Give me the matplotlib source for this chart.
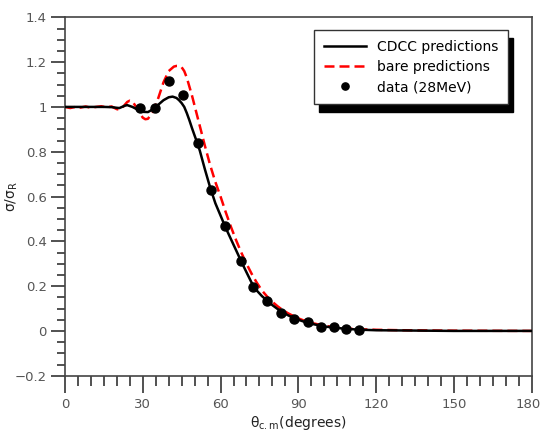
import matplotlib
matplotlib.use("Agg")
import matplotlib.pyplot as plt
from matplotlib.ticker import MultipleLocator
import matplotlib.transforms as mtransforms

# CDCC predictions
cdcc_x = [0, 5, 10, 15, 18, 20, 21, 23, 24, 26, 28, 30, 32, 34, 36, 38, 40, 41.5, 43, 44, 45, 46, 47, 48, 49, 50,
          51, 52, 54, 56, 58, 60, 62, 64, 66, 68, 70, 72, 74, 76, 78, 80, 82, 84, 86, 88, 90, 92, 95, 100,
          105, 110, 115, 120, 130, 140, 150, 180]
cdcc_y = [1.0, 1.0, 1.0, 1.0, 0.999, 0.996, 0.995, 1.005, 1.008, 1.0, 0.988, 0.978, 0.977, 0.99, 1.01, 1.03, 1.043,
          1.046, 1.04, 1.03, 1.017, 1.0, 0.972, 0.94, 0.905, 0.872, 0.84, 0.805, 0.72, 0.64, 0.57, 0.515, 0.46,
          0.41, 0.36, 0.31, 0.262, 0.215, 0.18, 0.155, 0.135, 0.115, 0.098, 0.083, 0.07, 0.059, 0.05, 0.042,
          0.032, 0.02, 0.013, 0.008, 0.005, 0.003, 0.002, 0.001, 0.0, 0.0]

# bare predictions
bare_x = [0, 2, 4, 6, 8, 10, 12, 14, 16, 18, 20, 21, 22, 24, 25, 26, 28, 30, 31, 32, 34, 36, 38, 40, 42, 43,
          44, 45, 46, 47, 48, 49, 50, 52, 54, 56, 58, 60, 62, 64, 66, 68, 70, 72, 74, 76, 78, 80, 82, 84, 86,
          88, 90, 92, 95, 100, 105, 110, 115, 120, 130, 140, 150, 180]
bare_y = [1.0, 0.995, 1.0, 0.997, 1.002, 0.996, 1.0, 1.003, 0.998, 1.002, 0.99, 0.988, 0.995, 1.022, 1.028,
          1.025, 0.99, 0.952, 0.945, 0.947, 0.98, 1.04, 1.11, 1.16, 1.18, 1.183, 1.183, 1.177, 1.16, 1.13,
          1.09, 1.05, 1.005, 0.915, 0.825, 0.74, 0.665, 0.6, 0.53, 0.465, 0.405, 0.35, 0.3, 0.255, 0.215,
          0.18, 0.153, 0.13, 0.11, 0.093, 0.079, 0.067, 0.056, 0.047, 0.036, 0.023, 0.015, 0.01, 0.007,
          0.005, 0.003, 0.002, 0.001, 0.0]

# data (28MeV)
data_x = [28.8, 34.8, 40.3, 45.4, 51.2, 56.2, 61.8, 67.9, 72.7, 77.9, 83.3, 88.5, 93.7, 98.9, 103.8, 108.2, 113.4]
data_y = [0.997, 0.997, 1.116, 1.055, 0.838, 0.628, 0.469, 0.310, 0.196, 0.135, 0.081, 0.053, 0.042, 0.016,
          0.016, 0.008, 0.004]

xticks = [0, 30, 60, 90, 120, 150, 180]
yticks = [-0.2, 0, 0.2, 0.4, 0.6, 0.8, 1.0, 1.2, 1.4]
ytick_labels = ["\u22120.2", "0", "0.2", "0.4", "0.6", "0.8", "1", "1.2", "1.4"]

plt.rcParams['font.family'] = ['DejaVu Sans']
fig = plt.figure(figsize=(5.42, 4.34), dpi=100)
ax = fig.add_axes([0.1199, 0.1343, 0.861, 0.8258])

ax.plot(cdcc_x, cdcc_y, color='black', lw=1.8, label='CDCC predictions', zorder=3)
ax.plot(bare_x, bare_y, color='red', lw=1.8, ls=(0, (4, 2)), label='bare predictions', zorder=2)
ax.plot(data_x, data_y, 'o', color='black', ms=6.5, label='data (28MeV)', zorder=4)

ax.set_xlim(0, 180)
ax.set_ylim(-0.2, 1.4)
ax.set_xticks(xticks)
ax.set_yticks(yticks)
ax.set_yticklabels(ytick_labels)
ax.xaxis.set_minor_locator(MultipleLocator(5))
ax.yaxis.set_minor_locator(MultipleLocator(0.05))
ax.tick_params(axis='both', which='major', direction='out', colors='#333333', labelcolor='#555555',
               labelsize=9.5, width=1.2)
ax.tick_params(axis='x', which='major', length=12, pad=4)
ax.tick_params(axis='y', which='major', length=10, pad=3)
ax.tick_params(axis='x', which='minor', direction='out', length=7, width=1.2, colors='#333333')
ax.tick_params(axis='y', which='minor', direction='out', length=6, width=1.2, colors='#333333')
for s in ax.spines.values():
    s.set_color('#444444')
    s.set_linewidth(1.2)

# nudge the last x tick label slightly left so it stays inside the figure
last = ax.get_xticklabels()[-1]
last.set_transform(last.get_transform() + mtransforms.ScaledTranslation(-3 / 100, 0, fig.dpi_scale_trans))

ax.set_xlabel(r'θ$_{\mathrm{c.m}}$(degrees)', fontsize=10, color='#222222', labelpad=2)
ax.set_ylabel(r'σ/σ$_{\mathrm{R}}$', fontsize=10, color='#222222')
ax.yaxis.set_label_coords(-0.097, 0.5)

leg = ax.legend(loc='upper right', bbox_to_anchor=(0.949, 0.9646), fontsize=10, frameon=True,
                fancybox=False, shadow={'color': 'black', 'alpha': 1.0, 'ox': 3.6, 'oy': -6.0},
                borderpad=0.7, markerscale=0.8,
                handlelength=3.0, handletextpad=0.8, labelspacing=0.45, borderaxespad=0)
leg.get_frame().set_edgecolor('#333333')
leg.get_frame().set_linewidth(1.0)

fig.savefig('out.png', dpi=100)
